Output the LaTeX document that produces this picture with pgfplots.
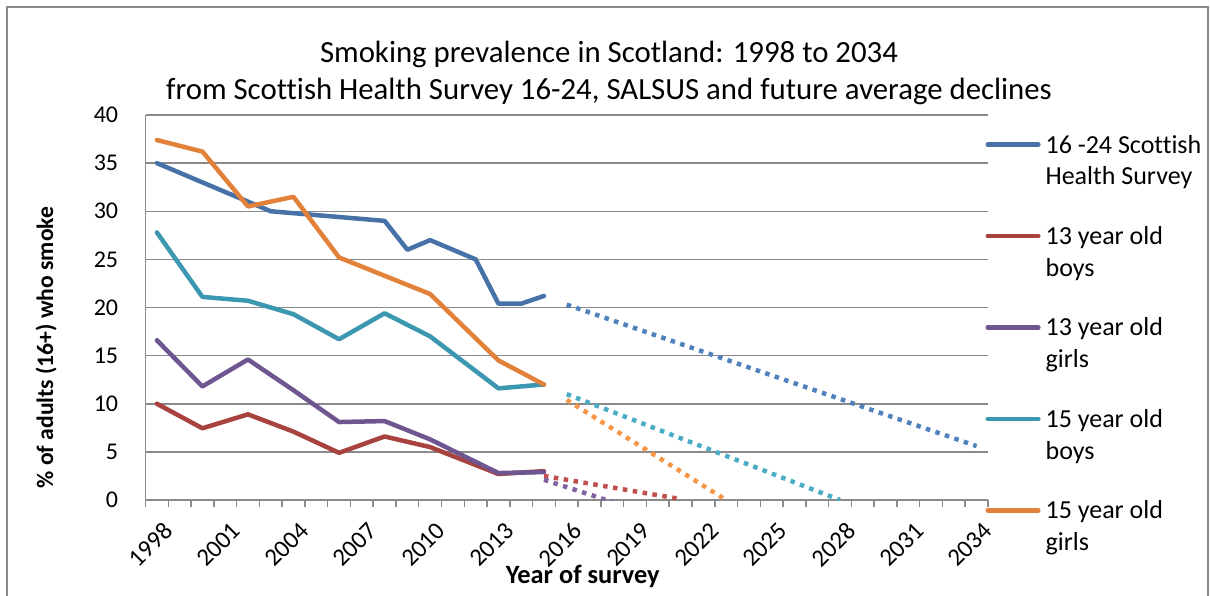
\documentclass[border=0pt]{standalone}
\usepackage{fontspec}
\setmainfont{Carlito}[Ligatures=NoCommon]
\usepackage{pgfplots}
\usepackage{pgfplotstable}
\pgfplotsset{compat=1.18}

% series colours (solid survey lines and lighter projection lines)
\definecolor{shsblue}{HTML}{4672A8}
\definecolor{boysred}{HTML}{A8423F}
\definecolor{girlspurple}{HTML}{6F5690}
\definecolor{boysteal}{HTML}{3C98B0}
\definecolor{girlsorange}{HTML}{E2823A}
\definecolor{projblue}{HTML}{4F81BD}
\definecolor{projred}{HTML}{C0504D}
\definecolor{projpurple}{HTML}{8064A2}
\definecolor{projteal}{HTML}{4BACC6}
\definecolor{projorange}{HTML}{F79646}
\definecolor{gridgray}{HTML}{8A8A8A}

% Scottish Health Survey, 16-24 year olds
\pgfplotstableread{
year value
1998 35.0
2003 30.0
2008 29.0
2009 26.0
2010 27.0
2012 25.0
2013 20.4
2014 20.4
2015 21.2
}\shs

% SALSUS, 13 year old boys
\pgfplotstableread{
year value
1998 10.0
2000 7.45
2002 8.9
2004 7.1
2006 4.9
2008 6.6
2010 5.5
2013 2.7
2015 3.0
}\boysthirteen

% SALSUS, 13 year old girls
\pgfplotstableread{
year value
1998 16.6
2000 11.8
2002 14.6
2004 11.4
2006 8.1
2008 8.2
2010 6.3
2013 2.8
2015 2.9
}\girlsthirteen

% SALSUS, 15 year old boys
\pgfplotstableread{
year value
1998 27.8
2000 21.1
2002 20.7
2004 19.3
2006 16.7
2008 19.4
2010 17.0
2013 11.6
2015 12.0
}\boysfifteen

% SALSUS, 15 year old girls
\pgfplotstableread{
year value
1998 37.4
2000 36.2
2002 30.5
2004 31.5
2006 25.2
2008 23.3
2010 21.4
2013 14.5
2015 12.0
}\girlsfifteen

% projected average declines
\pgfplotstableread{
year value
2016 20.3
2034 5.6
}\projshs
\pgfplotstableread{
year value
2015 2.5
2021 0.1
}\projboysthirteen
\pgfplotstableread{
year value
2015 2.1
2018 -0.2
}\projgirlsthirteen
\pgfplotstableread{
year value
2016 11.0
2028 0.0
}\projboysfifteen
\pgfplotstableread{
year value
2016 10.4
2023 0.0
}\projgirlsfifteen

\begin{document}
\begin{tikzpicture}
\path[use as bounding box] (0,0) rectangle (605pt,297.5pt);
% chart area frame
\draw[gridgray, line width=0.75pt] (3.6pt,-2pt) -- (3.6pt,293.9pt) -- (603.9pt,293.9pt) -- (603.9pt,-2pt);
% title
\node[anchor=north, align=center, inner sep=0pt,
      font=\fontsize{15.4}{18.4}\selectfont] at (304.5pt,277pt)
  {Smoking prevalence in Scotland: 1998 to 2034\\
   from Scottish Health Survey 16-24, SALSUS and future average declines};

\begin{axis}[
  at={(72.75pt,47.5pt)}, anchor=south west,
  scale only axis, width=421.25pt, height=192.5pt,
  xmin=1997.5, xmax=2034.5, ymin=0, ymax=40,
  axis lines*=left,
  axis line style={draw=gridgray, line width=0.75pt},
  xtick={1998,2001,2004,2007,2010,2013,2016,2019,2022,2025,2028,2031,2034},
  xticklabels={1998,2001,2004,2007,2010,2013,2016,2019,2022,2025,2028,2031,2034},
  minor xtick={1997.5,1998.5,...,2034.5},
  ytick={0,5,...,40},
  major tick length=0pt, minor tick length=3.5pt, tick align=outside,
  tick style={draw=gridgray, line width=0.75pt},
  ymajorgrids, grid style={draw=gridgray, line width=0.75pt},
  /pgf/number format/assume math mode=true,
  yticklabel style={font=\fontsize{12}{14}\selectfont, inner sep=0pt, xshift=-13.5pt},
  xticklabel style={font=\fontsize{12.4}{14}\selectfont, inner sep=0pt,
                    xshift=2.6pt, yshift=-10.2pt, rotate=45, anchor=north east},
  xlabel={Year of survey},
  xlabel style={at={(axis description cs:0.519,-0.198)}, anchor=center,
                inner sep=0pt, font=\bfseries\fontsize{13.2}{15}\selectfont},
  ylabel={\% of adults (16+) who smoke},
  ylabel style={at={(axis description cs:-0.118,0.396)}, anchor=center,
                inner sep=0pt, font=\bfseries\fontsize{11.8}{14}\selectfont},
  legend style={at={(1,1)}, anchor=north west, xshift=-1.25pt, yshift=-8pt,
                draw=none, fill=none, inner sep=0pt, outer sep=0pt,
                row sep=14pt, column sep=2.5pt,
                font=\fontsize{13}{15.85}\selectfont,
                nodes={inner sep=0pt, text depth=, align=left},
                cells={anchor=west}},
  legend image code/.code={\draw[#1] (1.1pt,9pt) -- (26.4pt,9pt);},
  solid line/.style={line width=2.25pt, line join=round, line cap=round},
  projection/.style={line width=2.25pt, line cap=butt, dash pattern=on 2.25pt off 2.75pt},
]
\addplot[shsblue, solid line] table[x=year, y=value] {\shs};
\addlegendentry{\strut 16 -24 Scottish\\\strut Health Survey}
\addplot[boysred, solid line] table[x=year, y=value] {\boysthirteen};
\addlegendentry{\strut 13 year old\\\strut boys}
\addplot[girlspurple, solid line] table[x=year, y=value] {\girlsthirteen};
\addlegendentry{\strut 13 year old\\\strut girls}
\addplot[boysteal, solid line] table[x=year, y=value] {\boysfifteen};
\addlegendentry{\strut 15 year old\\\strut boys}
\addplot[girlsorange, solid line] table[x=year, y=value] {\girlsfifteen};
\addlegendentry{\strut 15 year old\\\strut girls}

\addplot[projblue, projection, forget plot] table[x=year, y=value] {\projshs};
\addplot[projred, projection, forget plot] table[x=year, y=value] {\projboysthirteen};
\addplot[projpurple, projection, forget plot] table[x=year, y=value] {\projgirlsthirteen};
\addplot[projteal, projection, forget plot] table[x=year, y=value] {\projboysfifteen};
\addplot[projorange, projection, forget plot] table[x=year, y=value] {\projgirlsfifteen};
\end{axis}
\end{tikzpicture}
\end{document}
